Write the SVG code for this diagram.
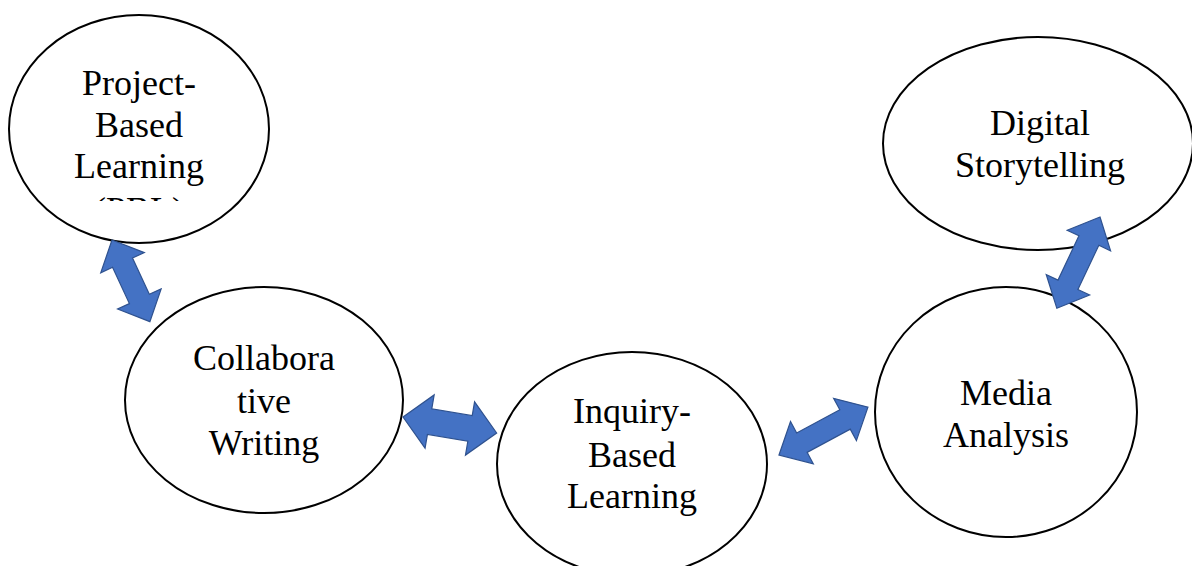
<svg xmlns="http://www.w3.org/2000/svg" width="1192" height="566" viewBox="0 0 1192 566">
<defs>
<style>
.node ellipse{fill:#fff;stroke:#000;stroke-width:2}
.node text{font-family:"Liberation Serif","Times New Roman",serif;font-size:36px;fill:#000;text-anchor:middle}
.conn path{fill:#4472C4;stroke:#2F528F;stroke-width:1.2;stroke-linejoin:miter}
</style>
<clipPath id="pblClip"><rect x="0" y="0" width="300" height="201"/></clipPath>
</defs>
<rect width="1192" height="566" fill="#fff"/>
<g id="node-pbl" class="node">
<ellipse cx="139" cy="129" rx="130" ry="114"/>
<g clip-path="url(#pblClip)">
<text x="139" y="95">Project-</text>
<text x="139" y="137">Based</text>
<text x="139" y="178">Learning</text>
<text x="139" y="222">(PBL)</text>
</g>
</g>
<g id="node-collab" class="node">
<ellipse cx="264" cy="400" rx="139" ry="113"/>
<text x="264" y="370">Collabora</text>
<text x="264" y="413">tive</text>
<text x="264" y="455">Writing</text>
</g>
<g id="node-inquiry" class="node">
<ellipse cx="632" cy="464" rx="135" ry="112"/>
<text x="632" y="423">Inquiry-</text>
<text x="632" y="467">Based</text>
<text x="632" y="508">Learning</text>
</g>
<g id="node-media" class="node">
<ellipse cx="1006" cy="412" rx="131" ry="125"/>
<text x="1006" y="405">Media</text>
<text x="1006" y="447">Analysis</text>
</g>
<g id="node-digital" class="node">
<ellipse cx="1038" cy="143.5" rx="155" ry="106.5"/>
<text x="1040" y="135">Digital</text>
<text x="1040" y="177">Storytelling</text>
</g>
<g id="connectors" class="conn">
<path transform="translate(112,240) rotate(65.1)" d="M0,0 L25,-24 L25,-11 L65,-11 L65,-24 L90,0 L65,24 L65,11 L25,11 L25,24 Z"/>
<path transform="translate(403,417) rotate(9.7)" d="M0,0 L27,-27 L27,-13 L68,-13 L68,-27 L95,0 L68,27 L68,13 L27,13 L27,27 Z"/>
<path transform="translate(779,455) rotate(-28.3)" d="M0,0 L26,-24 L26,-11 L75,-11 L75,-24 L101,0 L75,24 L75,11 L26,11 L26,24 Z"/>
<path transform="translate(1100,217) rotate(115.3)" d="M0,0 L26,-24 L26,-11 L75,-11 L75,-24 L101,0 L75,24 L75,11 L26,11 L26,24 Z"/>
</g>
</svg>
